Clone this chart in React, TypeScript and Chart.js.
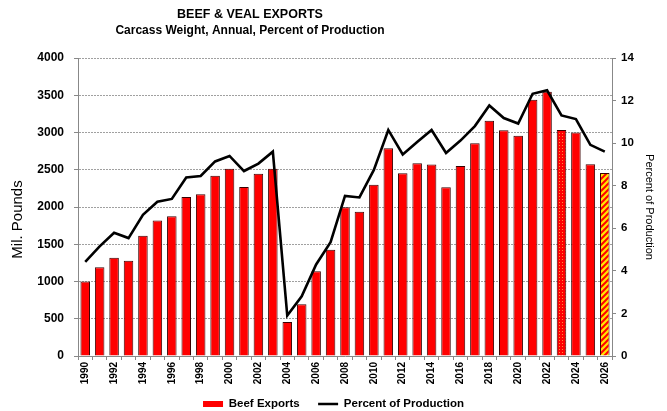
import React, { useEffect, useRef } from 'react';
import { Chart, registerables } from 'chart.js';

Chart.register(...registerables);

const TITLE = 'BEEF & VEAL EXPORTS';
const SUBTITLE = 'Carcass Weight, Annual, Percent of Production';
const LEFT_AXIS_TITLE = 'Mil. Pounds';
const RIGHT_AXIS_TITLE = 'Percent of Production';

const years = [
  '1990', '1991', '1992', '1993', '1994', '1995', '1996', '1997', '1998', '1999',
  '2000', '2001', '2002', '2003', '2004', '2005', '2006', '2007', '2008', '2009',
  '2010', '2011', '2012', '2013', '2014', '2015', '2016', '2017', '2018', '2019',
  '2020', '2021', '2022', '2023', '2024', '2025', '2026',
];

const beefExports = [
  1000, 1190, 1320, 1278, 1615, 1820, 1875, 2135, 2170, 2418,
  2515, 2268, 2445, 2515, 458, 696, 1138, 1427, 1998, 1935,
  2300, 2790, 2452, 2588, 2572, 2264, 2550, 2856, 3158, 3030,
  2957, 3438, 3548, 3035, 2999, 2575, 2455,
];

const percentOfProduction = [
  4.42, 5.15, 5.79, 5.54, 6.63, 7.25, 7.38, 8.39, 8.46, 9.14,
  9.4, 8.69, 9.04, 9.6, 1.9, 2.8, 4.3, 5.35, 7.52, 7.45,
  8.74, 10.62, 9.47, 10.05, 10.62, 9.54, 10.12, 10.8, 11.77, 11.18,
  10.92, 12.32, 12.48, 11.3, 11.13, 9.92, 9.6,
];

const dottedYear = '2023';
const hatchedYear = '2026';

const FONT = 'Arial, "Liberation Sans", sans-serif';

function makeDotPattern(): CanvasPattern | string {
  const c = document.createElement('canvas');
  c.width = 3;
  c.height = 3;
  const g = c.getContext('2d');
  if (!g) return '#FF0000';
  g.fillStyle = '#FF0000';
  g.fillRect(0, 0, 3, 3);
  g.fillStyle = '#FF8A3A';
  g.fillRect(1, 1, 1, 1);
  return g.createPattern(c, 'repeat') || '#FF0000';
}

function makeStripePattern(): CanvasPattern | string {
  const s = 6;
  const c = document.createElement('canvas');
  c.width = s;
  c.height = s;
  const g = c.getContext('2d');
  if (!g) return '#FFFF00';
  g.fillStyle = '#FFE600';
  g.fillRect(0, 0, s, s);
  g.strokeStyle = '#FF0000';
  g.lineWidth = 2;
  g.beginPath();
  g.moveTo(0, s);
  g.lineTo(s, 0);
  g.moveTo(-s / 2, s / 2);
  g.lineTo(s / 2, -s / 2);
  g.moveTo(s / 2, s + s / 2);
  g.lineTo(s + s / 2, s / 2);
  g.stroke();
  return g.createPattern(c, 'repeat') || '#FFFF00';
}

const headerPlugin = {
  id: 'headerText',
  afterDraw(chart: any) {
    const ctx = chart.ctx;
    ctx.save();
    ctx.fillStyle = '#000';
    ctx.textAlign = 'center';
    ctx.textBaseline = 'middle';
    ctx.font = `bold 12.5px ${FONT}`;
    ctx.fillText(TITLE, 250, 15);
    ctx.font = `bold 12px ${FONT}`;
    ctx.fillText(SUBTITLE, 250, 31);
    ctx.restore();
  },
};

export default function App() {
  const canvasRef = useRef<HTMLCanvasElement | null>(null);

  useEffect(() => {
    const canvas = canvasRef.current;
    if (!canvas) return;
    const dots = makeDotPattern();
    const stripes = makeStripePattern();
    const barColors = years.map((y) => (y === dottedYear ? dots : y === hatchedYear ? stripes : '#FF0000'));

    const chart = new Chart(canvas, {
      type: 'bar',
      data: {
        labels: years,
        datasets: [
          {
            type: 'bar',
            label: 'Beef Exports',
            data: beefExports,
            backgroundColor: barColors as any,
            borderColor: '#3a0000',
            borderWidth: 1,
            categoryPercentage: 1,
            barPercentage: 0.66,
            yAxisID: 'y',
            order: 1,
          },
          {
            type: 'line',
            label: 'Percent of Production',
            data: percentOfProduction,
            borderColor: '#000000',
            backgroundColor: '#000000',
            borderWidth: 2.6,
            pointRadius: 0,
            tension: 0,
            yAxisID: 'y1',
            order: 0,
          },
        ],
      },
      options: {
        responsive: false,
        animation: false,
        devicePixelRatio: 1,
        layout: { padding: { top: 58, bottom: -8.75, left: 0, right: 0 } },
        plugins: {
          tooltip: { enabled: false },
          title: { display: false },
          legend: {
            position: 'bottom',
            labels: {
              usePointStyle: true,
              pointStyleWidth: 20,
              boxHeight: 6,
              padding: 12,
              color: '#000',
              font: { family: FONT, size: 11.5, weight: 'bold' },
              sort: (a: any, b: any) => a.datasetIndex - b.datasetIndex,
              generateLabels(chart: any) {
                const items = (Chart.defaults.plugins.legend.labels as any).generateLabels(chart);
                items.forEach((it: any) => {
                  if (it.datasetIndex === 0) {
                    it.text = it.text + '  ';
                    it.pointStyle = 'rect';
                    it.fillStyle = '#FF0000';
                    it.strokeStyle = '#FF0000';
                    it.lineWidth = 0;
                  } else {
                    it.pointStyle = 'line';
                    it.strokeStyle = '#000000';
                    it.fillStyle = '#000000';
                    it.lineWidth = 2.5;
                  }
                });
                return items;
              },
            },
          },
        },
        scales: {
          x: {
            type: 'category',
            afterFit: (s: any) => { s.height = 30.25; },
            grid: {
              display: true,
              drawOnChartArea: false,
              offset: true,
              tickLength: 4,
              color: '#888',
              tickColor: '#888',
            },
            border: { display: true, color: '#888', width: 1 },
            ticks: {
              autoSkip: false,
              minRotation: 90,
              maxRotation: 90,
              padding: 2,
              color: '#000',
              font: { family: FONT, size: 10, weight: 'bold' },
              callback: (_v: any, i: number) => (i % 2 === 0 ? years[i] : ''),
            },
          },
          y: {
            position: 'left',
            min: 0,
            max: 4000,
            afterFit: (s: any) => { s.width = 78; },
            ticks: {
              stepSize: 500,
              padding: 10,
              color: '#000',
              font: { family: FONT, size: 12, weight: 'bold' },
              callback: (v: any) => String(v),
            },
            grid: {
              color: '#a0a0a0',
              lineWidth: 1,
              tickLength: 4,
              tickColor: '#888',
              tickBorderDash: [],
            },
            border: { display: true, color: '#888', width: 1, dash: [2, 1] },
            title: {
              display: true,
              text: LEFT_AXIS_TITLE + '      ',
              color: '#000',
              font: { family: FONT, size: 15, weight: 'normal' },
              padding: { top: 9, bottom: 0 },
            },
          },
          y1: {
            position: 'right',
            min: 0,
            max: 14,
            afterFit: (s: any) => { s.width = 55; },
            ticks: {
              stepSize: 2,
              padding: 5,
              color: '#000',
              font: { family: FONT, size: 11.5, weight: 'bold' },
            },
            grid: {
              drawOnChartArea: false,
              tickLength: 4,
              color: '#888',
              tickColor: '#888',
            },
            border: { display: true, color: '#888', width: 1 },
            title: {
              display: true,
              text: RIGHT_AXIS_TITLE,
              color: '#000',
              font: { family: FONT, size: 11, weight: 'normal' },
              padding: { top: 11, bottom: 0 },
            },
          },
        },
      } as any,
      plugins: [headerPlugin],
    });

    return () => {
      chart.destroy();
    };
  }, []);

  return (
    <div style={{ position: 'absolute', left: 0, top: 0, width: 667, height: 411, background: '#fff' }}>
      <canvas ref={canvasRef} width={667} height={411} style={{ display: 'block' }} />
    </div>
  );
}
